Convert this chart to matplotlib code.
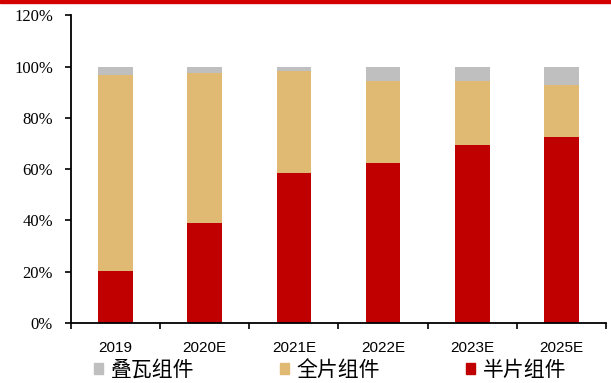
import matplotlib
matplotlib.use("Agg")
import matplotlib.pyplot as plt
from matplotlib.patches import Patch, Rectangle
from matplotlib.ticker import FuncFormatter
import numpy as np

# 组件结构占比（%）
years = ["2019", "2020E", "2021E", "2022E", "2023E", "2025E"]
half_cell = [20.3, 39.0, 58.5, 62.4, 69.5, 72.7]   # 半片组件
shingled = [3.3, 2.5, 1.7, 5.6, 5.6, 7.2]          # 叠瓦组件
full_cell = [100 - h - s for h, s in zip(half_cell, shingled)]  # 全片组件

c_half = "#C00000"
c_full = "#E0BA72"
c_shingled = "#BFBFBF"

W, H = 611, 383
fig = plt.figure(figsize=(W / 100, H / 100), dpi=100)
ax = fig.add_axes([71 / W, (H - 323) / H, (606 - 71) / W, (323 - 15.3) / H])

x = np.arange(len(years))
w = 0.39
half = np.array(half_cell) / 100
full = np.array(full_cell) / 100
shing = np.array(shingled) / 100
ax.bar(x, half, w, color=c_half)
ax.bar(x, full, w, bottom=half, color=c_full)
ax.bar(x, shing, w, bottom=half + full, color=c_shingled)

ax.set_xlim(-0.5, 5.5)
ax.set_ylim(0, 1.2)
ax.set_yticks(np.arange(0, 1.21, 0.2))
ax.yaxis.set_major_formatter(FuncFormatter(lambda v, p: "%d%%" % round(v * 100)))
for lab in ax.get_yticklabels():
    lab.set_family("Liberation Serif")
    lab.set_fontsize(12)

# category labels sit between the boundary ticks
ax.set_xticks(np.arange(-0.5, 5.6, 1.0))
ax.set_xticklabels([])
ax.set_xticks(x, minor=True)
ax.set_xticklabels(years, minor=True, family="Liberation Sans", fontsize=11)
ax.tick_params(axis="x", which="minor", length=0, pad=13)
ax.tick_params(axis="x", which="major", length=4, width=1.2, direction="out")
ax.tick_params(axis="y", length=4, width=1.2, direction="out", pad=9)

for s in ["top", "right"]:
    ax.spines[s].set_visible(False)
for s in ["left", "bottom"]:
    ax.spines[s].set_linewidth(1.3)

handles = [Patch(color=c_shingled, label="叠瓦组件"),
           Patch(color=c_full, label="全片组件"),
           Patch(color=c_half, label="半片组件")]
fig.legend(handles=handles, loc="center left", bbox_to_anchor=(94 / W, 1 - 370 / H),
           ncol=3, frameon=False, prop={"family": ["Noto Sans CJK SC", "DejaVu Sans"], "size": 15},
           handlelength=0.43, handleheight=0.43, handletextpad=0.38, columnspacing=4.1,
           borderaxespad=0, borderpad=0)

# red band across the top
fig.patches.append(Rectangle((0, 1 - 3 / H), 1, 3 / H, transform=fig.transFigure,
                             color="#D40000", zorder=5))

fig.savefig("out.png", dpi=100)
